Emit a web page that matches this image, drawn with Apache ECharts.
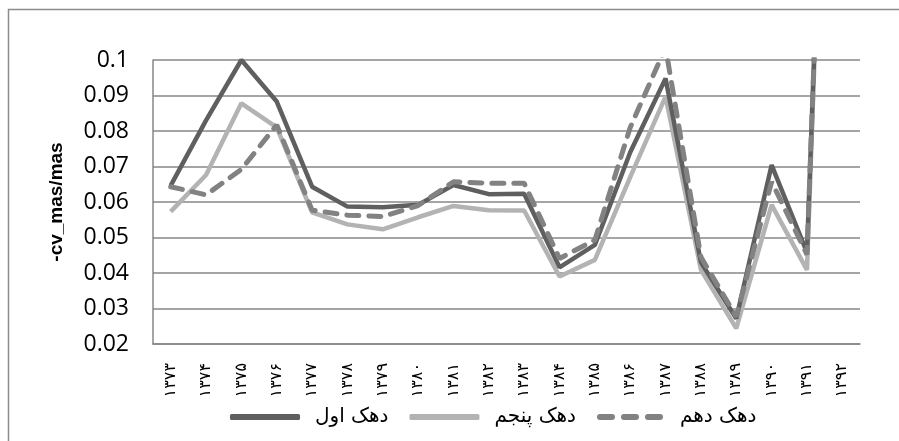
<!DOCTYPE html>
<html>
<head>
<meta charset="utf-8">
<script src="https://cdn.jsdelivr.net/npm/echarts@6/dist/echarts.min.js"></script>
<style>
html,body{margin:0;padding:0;background:#fff;}
#chart{width:899px;height:441px;}
</style>
</head>
<body>
<div id="chart"></div>
<script>
const categories = ['۱۳۷۳','۱۳۷۴','۱۳۷۵','۱۳۷۶','۱۳۷۷','۱۳۷۸','۱۳۷۹','۱۳۸۰','۱۳۸۱','۱۳۸۲','۱۳۸۳','۱۳۸۴','۱۳۸۵','۱۳۸۶','۱۳۸۷','۱۳۸۸','۱۳۸۹','۱۳۹۰','۱۳۹۱','۱۳۹۲'];
const decile1 = [0.0646,0.083,0.1,0.0883,0.0643,0.0587,0.0585,0.0592,0.0648,0.0622,0.0623,0.0416,0.0479,0.074,0.0948,0.043,0.0272,0.0704,0.0458,0.32];
const decile5 = [0.0573,0.0676,0.0878,0.081,0.0571,0.0537,0.0523,0.0557,0.0589,0.0577,0.0576,0.039,0.0437,0.067,0.0897,0.0409,0.0244,0.0592,0.0409,0.32];
const decile10 = [0.0643,0.062,0.0692,0.0817,0.0577,0.0563,0.0559,0.059,0.0657,0.0653,0.0653,0.0441,0.0493,0.081,0.1035,0.0445,0.0277,0.0657,0.0452,0.32];
const seriesNames = ['دهک اول','دهک پنجم','دهک دهم'];
const yTickLabels = ['0.02','0.03','0.04','0.05','0.06','0.07','0.08','0.09','0.1'];
const yAxisName = '-cv_mas/mas';

const dashIcon = 'path://M3,0H15A3,3,0,0,1,15,6H3A3,3,0,0,1,3,0Z M27,0H39A3,3,0,0,1,39,6H27A3,3,0,0,1,27,0Z M51,0H63A3,3,0,0,1,63,6H51A3,3,0,0,1,51,0Z';

const chart = echarts.init(document.getElementById('chart'));
chart.setOption({
  animation: false,
  graphic: [{
    type: 'rect', silent: true, z: -1,
    shape: {x: 8.5, y: 9.5, width: 900, height: 440},
    style: {fill: 'none', stroke: '#8c8c8c', lineWidth: 1.5}
  }],
  grid: {left: 153, right: 39, top: 60, bottom: 97},
  legend: {
    data: [
      {name: seriesNames[0], icon: 'roundRect'},
      {name: seriesNames[1], icon: 'roundRect'},
      {name: seriesNames[2], icon: dashIcon, itemStyle: {color: '#828282'}}
    ],
    bottom: 9,
    left: 225,
    itemWidth: 70,
    itemHeight: 6,
    itemGap: 21,
    textStyle: {fontFamily: 'DejaVu Sans', fontSize: 20, color: '#000', padding: [0, 0, 0, 10]}
  },
  xAxis: {
    type: 'category',
    data: categories,
    boundaryGap: true,
    axisLine: {lineStyle: {color: '#878787', width: 1.5}},
    axisTick: {show: false},
    axisLabel: {rotate: 90, margin: 19, fontFamily: 'DejaVu Sans', fontSize: 16, color: '#000', interval: 0}
  },
  yAxis: {
    type: 'value',
    min: 0.02, max: 0.1, interval: 0.01,
    name: yAxisName,
    nameLocation: 'middle',
    nameRotate: 90,
    nameGap: 87,
    nameTextStyle: {fontFamily: 'Liberation Sans', fontWeight: 'bold', fontSize: 19, color: '#000'},
    axisLine: {show: true, lineStyle: {color: '#878787', width: 1.5}},
    axisTick: {show: false},
    splitLine: {lineStyle: {color: '#878787', width: 1.5}},
    axisLabel: {
      margin: 24, fontFamily: 'Open Sans', fontSize: 23, color: '#000',
      formatter: (v, i) => yTickLabels[i]
    }
  },
  series: [
    {name: seriesNames[0], type: 'line', data: decile1, symbol: 'none', clip: true, z: 3,
     lineStyle: {color: '#5f5f5f', width: 4.5}, itemStyle: {color: '#5f5f5f'}},
    {name: seriesNames[1], type: 'line', data: decile5, symbol: 'none', clip: true, z: 2,
     lineStyle: {color: '#b3b3b3', width: 4.5}, itemStyle: {color: '#b3b3b3'}},
    {name: seriesNames[2], type: 'line', data: decile10, symbol: 'none', clip: true, z: 4,
     lineStyle: {color: '#828282', width: 5, type: [12, 10], cap: 'round'}, itemStyle: {color: '#828282'}}
  ]
});
</script>
</body>
</html>
